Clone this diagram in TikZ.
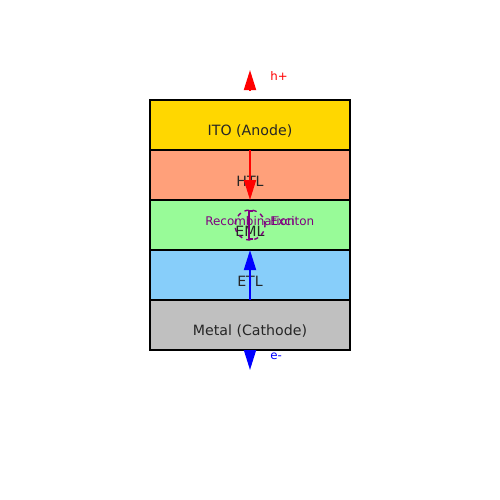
\documentclass[tikz,border=0pt]{standalone}
\usepackage{fontspec}
\setmainfont{DejaVu Sans}
\usetikzlibrary{arrows.meta}
\definecolor{ito}{HTML}{FFD700}
\definecolor{htl}{HTML}{FFA07A}
\definecolor{eml}{HTML}{98FB98}
\definecolor{etl}{HTML}{87CEFA}
\definecolor{metal}{HTML}{C0C0C0}
\definecolor{purp}{HTML}{800080}
\begin{document}
\begin{tikzpicture}[x=0.72pt,y=-0.72pt,
  layer/.style={draw=black,line width=1.4pt,minimum width=144pt,minimum height=36pt,inner sep=0pt,outer sep=0pt},
  lbl/.style={font=\fontsize{10.2}{12}\selectfont,text=black!85,inner sep=0pt},
  plbl/.style={font=\fontsize{8.6}{10}\selectfont,text=purp,inner sep=0pt},
  carrier/.style={line width=1.4pt,-{Triangle[width=8.6pt,length=14.4pt]}},
  small/.style={font=\fontsize{8.5}{10}\selectfont,inner sep=0pt,anchor=west}]
\useasboundingbox (0,0) rectangle (500,500);
\node[layer,fill=ito] (ito) at (250,125) {};
\node[layer,fill=htl] (htl) at (250,175) {};
\node[layer,fill=eml] (eml) at (250,225) {};
\node[layer,fill=etl] (etl) at (250,275) {};
\node[layer,fill=metal] (metal) at (250,325) {};
\node[lbl] (itol) at (250,131) {ITO (Anode)};
\node[lbl] (htll) at (250,181) {HTL};
\node[lbl] (emll) at (250,231) {EML};
\node[lbl] (etll) at (250,281) {ETL};
\node[lbl] (metall) at (250,331) {Metal (Cathode)};
% carriers
\coordinate (htop) at (250,90);
\coordinate (htip) at (250,70);
\draw[carrier,red] (htop) -- (htip);
\node[small,text=red] (hp) at (270,76) {h+};
\draw[carrier,red] (ito.south) -- (htl.south);
\draw[carrier,blue] (metal.north) -- (etl.north);
\coordinate (ebot) at (250,350);
\coordinate (etip) at (250,370);
\draw[carrier,blue] (ebot) -- (etip);
\node[small,text=blue] (em) at (270,356) {e-};
% recombination
\node[draw=purp,dashed,line width=1pt,circle,minimum size=21.6pt,inner sep=0pt] (exc) at (250,225) {};
\draw[purp,line width=1pt] (253,211) -- (249,211) -- (249,239) -- (253,239);
\node[plbl] (rec) at (250,221) {Recombination};
\node[plbl,anchor=west] (exl) at (270,221) {Exciton};
\end{tikzpicture}
\end{document}
